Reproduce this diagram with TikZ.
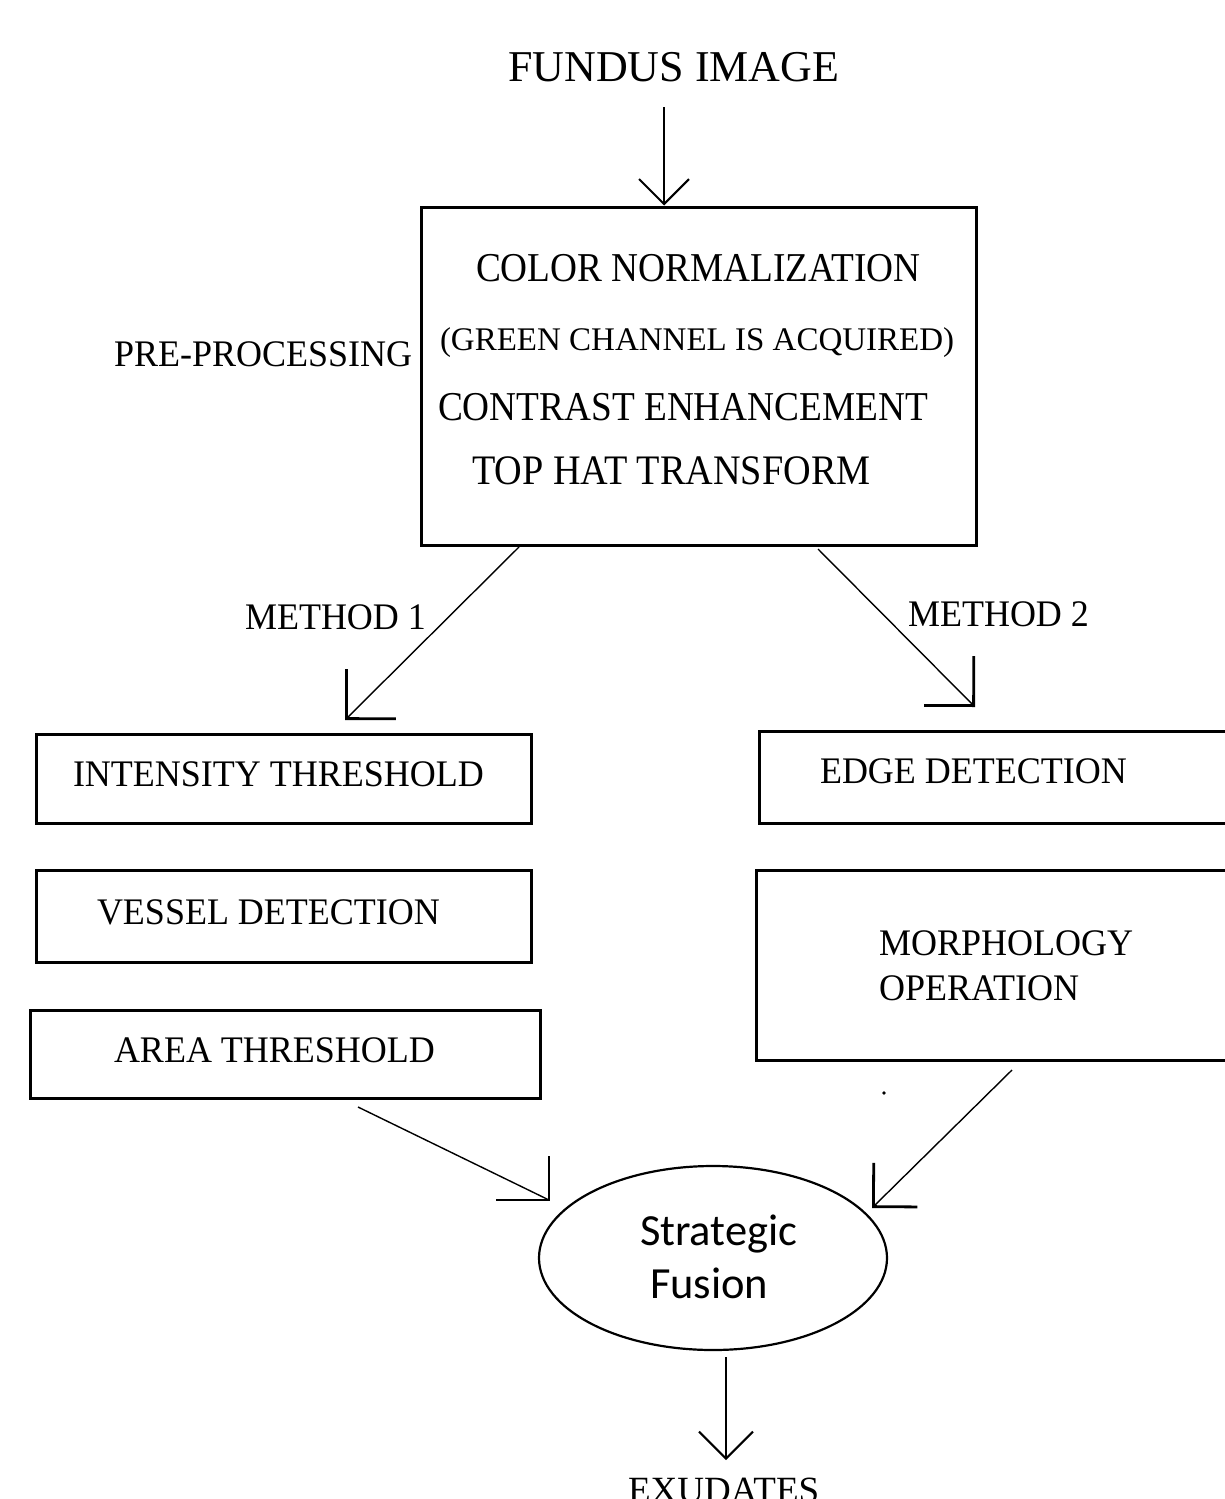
\documentclass[tikz,border=0pt]{standalone}
\usepackage{fontspec}
\setmainfont{Liberation Serif}
\newfontfamily\boxfont[FakeStretch=0.91]{Liberation Serif}
\newfontfamily\lowfont[FakeStretch=0.96]{Liberation Serif}
\newfontfamily\calib{Carlito}
\usetikzlibrary{arrows.meta,shapes.geometric}
\tikzset{
  box/.style={draw, line width=3pt, inner sep=0pt},
  lbl/.style={anchor=base west, inner sep=0pt, outer sep=0pt},
  bigtxt/.style={lbl, font=\fontsize{44}{44}\selectfont},
  boxtxt/.style={lbl, font=\boxfont\fontsize{41}{41}\selectfont},
  lowtxt/.style={lbl, font=\lowfont\fontsize{37.5}{37.5}\selectfont},
  caltxt/.style={lbl, font=\calib\fontsize{44.5}{44.5}\selectfont},
  conn/.style={line width=1.4pt},
  barbline/.style={line width=2.6pt, line cap=rect},
  veetop/.style={-{Straight Barb[length=25pt, angle'=90]}},
  veebot/.style={-{Straight Barb[length=27pt, angle'=90]}},
  heavyveeA/.style={-{Straight Barb[length=35pt, angle'=90, line width=2.8pt]}},
  heavyveeB/.style={-{Straight Barb[length=31pt, angle'=90, line width=2.8pt]}}
}
\begin{document}
\begin{tikzpicture}[x=1pt,y=-1pt]
\clip (0,0) rectangle (1225,1499);
\fill[white] (0,0) rectangle (1225,1499);

% top label
\node[bigtxt] (fundus) at (508,81) {FUNDUS IMAGE};

% pre-processing box
\node[box, minimum width=555pt, minimum height=338pt] (pre) at (698.5,376) {};
\node[boxtxt] (cn) at (476,281) {COLOR NORMALIZATION};
\node[lbl, font=\fontsize{33}{33}\selectfont] (gc) at (440,350) {(GREEN CHANNEL IS ACQUIRED)};
\node[boxtxt] (ce) at (438,420) {CONTRAST ENHANCEMENT};
\node[lbl, font=\boxfont\fontsize{42}{42}\selectfont] (th) at (472,484) {TOP HAT TRANSFORM};
\node[lowtxt] (pp) at (114,366) {PRE-PROCESSING};

% method labels
\node[lowtxt] (m1) at (245,629) {METHOD 1};
\node[lowtxt] (m2) at (908,626) {METHOD 2};

% left column boxes
\node[box, minimum width=495pt, minimum height=89pt] (inten) at (283.5,778.5) {};
\node[lowtxt] at (73,786) {INTENSITY THRESHOLD};
\node[box, minimum width=495pt, minimum height=92pt] (vessel) at (283.5,916) {};
\node[lowtxt] at (97,924) {VESSEL DETECTION};
\node[box, minimum width=510pt, minimum height=88pt] (area) at (285,1054) {};
\node[lowtxt] at (114,1062) {AREA THRESHOLD};

% right column boxes
\node[box, minimum width=481pt, minimum height=92pt] (edge) at (999.5,777) {};
\node[lowtxt] at (820,783) {EDGE DETECTION};
\node[box, minimum width=484pt, minimum height=190pt] (morph) at (998,965) {};
\node[lowtxt] at (879,955) {MORPHOLOGY};
\node[lowtxt] at (879,1000) {OPERATION};

% fusion ellipse
\node[draw, ellipse, line width=2.2pt, minimum width=348pt, minimum height=184pt, inner sep=0pt] (fusion) at (713,1258) {};
\node[caltxt] at (640,1245) {Strategic};
\node[caltxt] at (650,1298) {Fusion};

% output label
\node[lbl, font=\fontsize{37}{37}\selectfont] (exu) at (628,1502) {EXUDATES};

% connector end points
\coordinate (topS) at (664,107);
\coordinate (m1S) at (519,547);
\coordinate (m1E) at (345,720);
\coordinate (m2S) at (818,549);
\coordinate (m2E) at (975,707);
\coordinate (aS) at (358,1107);
\coordinate (aE) at (549,1200);
\coordinate (mS) at (1012,1070);
\coordinate (mE) at (872,1208);
\coordinate (fS) at (726,1357);
\coordinate (fE) at (726,1460);

% connectors
\draw[line width=2pt, veetop] (topS) -- (topS |- pre.north);
\draw[conn, heavyveeA] (m1S) -- (m1E);
\draw[conn, heavyveeA] (m2S) -- (m2E);
\draw[conn] (aS) -- (aE);
\draw[barbline] (aE) -- ++(0,-43) (aE) -- ++(-52,0);
\draw[conn, heavyveeB] (mS) -- (mE);
\draw[line width=2pt, veebot] (fS) -- (fE);

% stray dot
\fill (884,1093) circle (1.8pt);
\end{tikzpicture}
\end{document}
